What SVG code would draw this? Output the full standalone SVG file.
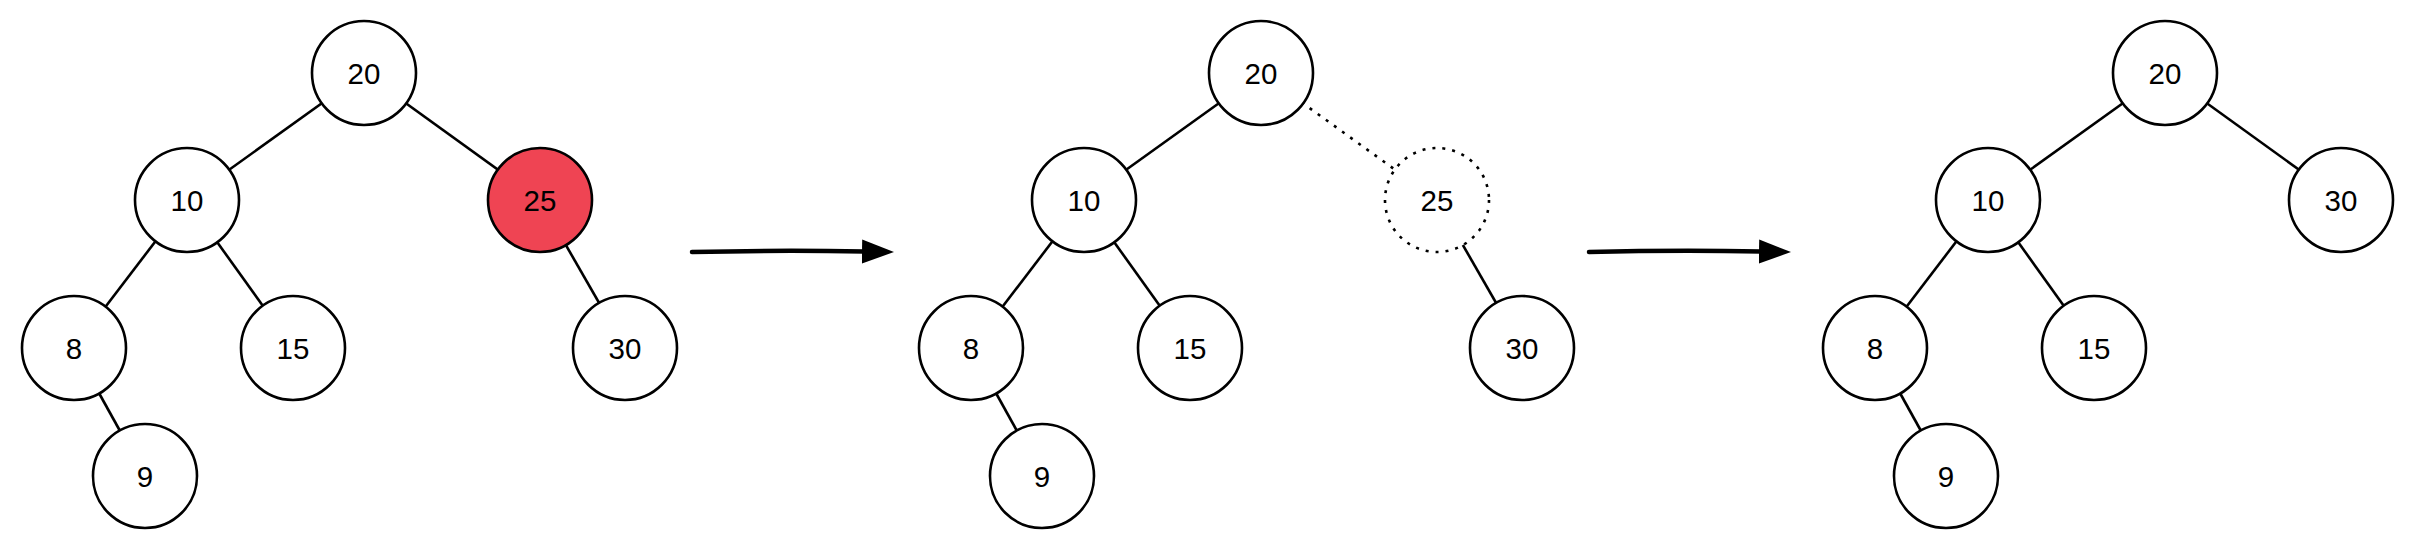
<svg xmlns="http://www.w3.org/2000/svg" width="2418" height="548" viewBox="0 0 2418 548">
<style>
.n{fill:#fff;stroke:#000;stroke-width:2.6}
.red{fill:#EF4453}
.dot{stroke-dasharray:3 7}
.e{stroke:#000;stroke-width:2.6;fill:none}
.a{stroke:#000;stroke-width:4.5;fill:none;stroke-linecap:round}
text{font-family:"Liberation Sans",Arial,sans-serif;font-size:29.5px;fill:#000;text-anchor:middle}
</style>
<defs>
<marker id="ah" markerUnits="userSpaceOnUse" markerWidth="34" markerHeight="26" refX="2" refY="13" orient="auto">
<polygon points="0,1 32,13 0,25" fill="#000"/>
</marker>
</defs>
<g id="connectors">
<line class="e" x1="364" y1="73" x2="187" y2="200"/>
<line class="e" x1="364" y1="73" x2="540" y2="200"/>
<line class="e" x1="187" y1="200" x2="74" y2="348"/>
<line class="e" x1="187" y1="200" x2="293" y2="348"/>
<line class="e" x1="540" y1="200" x2="625" y2="348"/>
<line class="e" x1="74" y1="348" x2="145" y2="476"/>
<line class="e" x1="1261" y1="73" x2="1084" y2="200"/>
<line class="e dot" x1="1261" y1="73" x2="1437" y2="200"/>
<line class="e" x1="1084" y1="200" x2="971" y2="348"/>
<line class="e" x1="1084" y1="200" x2="1190" y2="348"/>
<line class="e" x1="1437" y1="200" x2="1522" y2="348"/>
<line class="e" x1="971" y1="348" x2="1042" y2="476"/>
<line class="e" x1="2165" y1="73" x2="1988" y2="200"/>
<line class="e" x1="2165" y1="73" x2="2341" y2="200"/>
<line class="e" x1="1988" y1="200" x2="1875" y2="348"/>
<line class="e" x1="1988" y1="200" x2="2094" y2="348"/>
<line class="e" x1="1875" y1="348" x2="1946" y2="476"/>
<path class="a" d="M692 252 Q780 250 864 251.5" marker-end="url(#ah)"/>
<path class="a" d="M1589 252 Q1677 250 1761 251.5" marker-end="url(#ah)"/>
</g>
<g id="t1-20"><circle class="n" cx="364" cy="73" r="52"/><text x="364" y="83.5">20</text></g>
<g id="t1-10"><circle class="n" cx="187" cy="200" r="52"/><text x="187" y="210.5">10</text></g>
<g id="t1-25"><circle class="n red" cx="540" cy="200" r="52"/><text x="540" y="210.5">25</text></g>
<g id="t1-8"><circle class="n" cx="74" cy="348" r="52"/><text x="74" y="358.5">8</text></g>
<g id="t1-15"><circle class="n" cx="293" cy="348" r="52"/><text x="293" y="358.5">15</text></g>
<g id="t1-30"><circle class="n" cx="625" cy="348" r="52"/><text x="625" y="358.5">30</text></g>
<g id="t1-9"><circle class="n" cx="145" cy="476" r="52"/><text x="145" y="486.5">9</text></g>
<g id="t2-20"><circle class="n" cx="1261" cy="73" r="52"/><text x="1261" y="83.5">20</text></g>
<g id="t2-10"><circle class="n" cx="1084" cy="200" r="52"/><text x="1084" y="210.5">10</text></g>
<g id="t2-25"><circle class="n dot" cx="1437" cy="200" r="52"/><text x="1437" y="210.5">25</text></g>
<g id="t2-8"><circle class="n" cx="971" cy="348" r="52"/><text x="971" y="358.5">8</text></g>
<g id="t2-15"><circle class="n" cx="1190" cy="348" r="52"/><text x="1190" y="358.5">15</text></g>
<g id="t2-30"><circle class="n" cx="1522" cy="348" r="52"/><text x="1522" y="358.5">30</text></g>
<g id="t2-9"><circle class="n" cx="1042" cy="476" r="52"/><text x="1042" y="486.5">9</text></g>
<g id="t3-20"><circle class="n" cx="2165" cy="73" r="52"/><text x="2165" y="83.5">20</text></g>
<g id="t3-10"><circle class="n" cx="1988" cy="200" r="52"/><text x="1988" y="210.5">10</text></g>
<g id="t3-30"><circle class="n" cx="2341" cy="200" r="52"/><text x="2341" y="210.5">30</text></g>
<g id="t3-8"><circle class="n" cx="1875" cy="348" r="52"/><text x="1875" y="358.5">8</text></g>
<g id="t3-15"><circle class="n" cx="2094" cy="348" r="52"/><text x="2094" y="358.5">15</text></g>
<g id="t3-9"><circle class="n" cx="1946" cy="476" r="52"/><text x="1946" y="486.5">9</text></g>
</svg>
